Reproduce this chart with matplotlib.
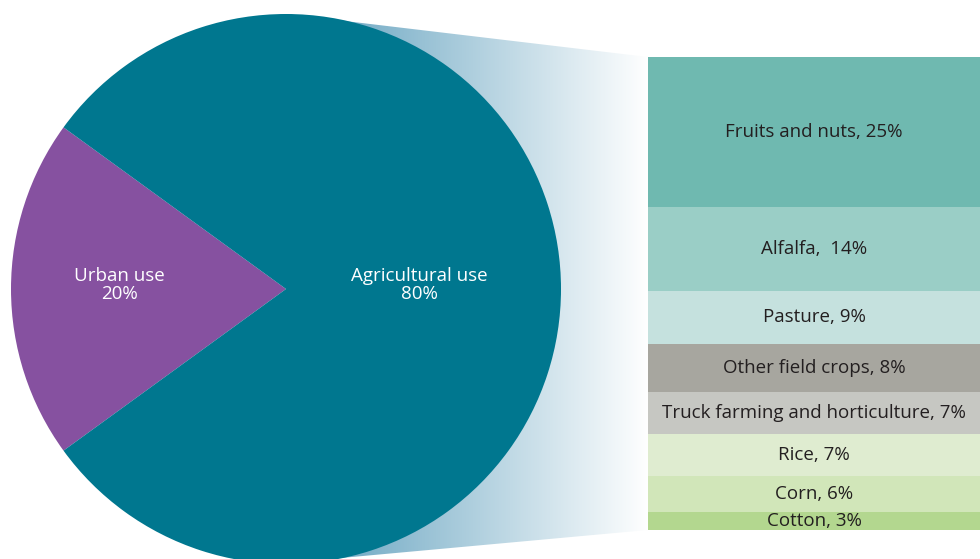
import numpy as np
import matplotlib.pyplot as plt
from matplotlib.patches import Polygon
from matplotlib.colors import LinearSegmentedColormap

# pie data
pie_labels = ['Urban use', 'Agricultural use']
pie_values = [20, 80]
pie_colors = ['#8651a0', '#00778f']

# breakdown of agricultural use
crop_labels = ['Fruits and nuts, 25%', 'Alfalfa,  14%', 'Pasture, 9%',
               'Other field crops, 8%', 'Truck farming and horticulture, 7%',
               'Rice, 7%', 'Corn, 6%', 'Cotton, 3%']
crop_values = [25, 14, 9, 8, 7, 7, 6, 3]
crop_colors = ['#6fb9b0', '#9acec6', '#c5e1de', '#a7a69f', '#c6c7c2',
               '#dfecd0', '#d1e6b9', '#b3d78f']

plt.rcParams['font.family'] = ['Open Sans', 'DejaVu Sans']

W, H = 980, 559
fig = plt.figure(figsize=(W / 100, H / 100), dpi=100)
ax = fig.add_axes([0, 0, 1, 1])

cx, cy, r = 286, 289, 275

# gradient fan from the pie to the bar
fan = Polygon([(cx, 14), (648, 57), (648, 530), (cx, 563)], closed=True,
              facecolor='none', edgecolor='none')
ax.add_patch(fan)
cmap = LinearSegmentedColormap.from_list('fan', ['#5a9cbb', '#ffffff'])
grad = np.linspace(0, 1, 256).reshape(1, -1)
img = ax.imshow(grad, cmap=cmap, extent=[cx, 648, H + 10, 0], aspect='auto', zorder=1)
img.set_clip_path(fan)

wedges, _ = ax.pie(pie_values, colors=pie_colors, startangle=144, center=(cx, cy),
                   radius=r, frame=True, wedgeprops=dict(linewidth=0))
for w in wedges:
    w.set_zorder(2)
ax.set_xlim(0, W)
ax.set_ylim(H, 0)
ax.axis('off')

ax.text(119, 285, f'{pie_labels[0]}\n{pie_values[0]}%', color='white', fontsize=13.5,
        ha='center', va='center', linespacing=1.0, zorder=3)
ax.text(419, 285, f'{pie_labels[1]}\n{pie_values[1]}%', color='white', fontsize=13.5,
        ha='center', va='center', linespacing=1.0, zorder=3)

# stacked bar
bx = fig.add_axes([648 / W, (H - 530) / H, 332 / W, 473 / H])
total = sum(crop_values)
bottoms = np.concatenate([[0], np.cumsum(crop_values)[:-1]])
bx.bar(0, crop_values, bottom=bottoms, width=1, color=crop_colors, linewidth=0)
bx.set_xlim(-0.5, 0.5)
bx.set_ylim(total, 0)
bx.axis('off')
for lab, b, v in zip(crop_labels, bottoms, crop_values):
    bx.text(0, b + v / 2, lab, ha='center', va='center', fontsize=13.5, color='#231f20')

fig.savefig('out.png', dpi=100)
